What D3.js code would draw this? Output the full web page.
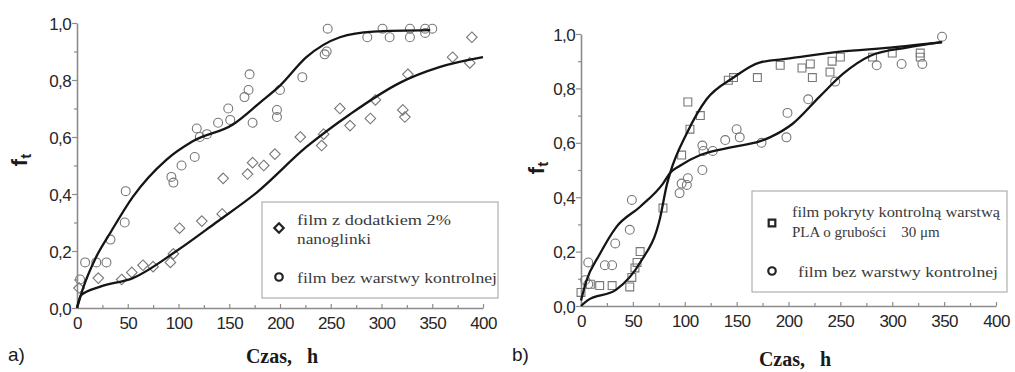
<!DOCTYPE html>
<html>
<head>
<meta charset="utf-8">
<script src="https://cdn.jsdelivr.net/npm/d3@7"></script>
<style>
  html, body { margin: 0; padding: 0; background: #fff; }
  svg { display: block; }
  .tick text { font-family: "Liberation Sans", Arial, sans-serif; font-size: 17px; fill: #262626; letter-spacing: -0.6px; }
  .legend text { font-family: "Liberation Serif", "Times New Roman", serif; fill: #3a3a3a; }
</style>
</head>
<body>
<svg id="chart" width="1015" height="372"></svg>
<script>
// ---- data (time in h, f_t) ----
// panel a
const aControl = [[3,0.10],[8,0.16],[19,0.16],[29,0.16],[33,0.24],[47,0.30],[48,0.41],[93,0.46],[95,0.44],
  [103,0.50],[116,0.53],[118,0.63],[121,0.60],[128,0.61],[139,0.65],[149,0.70],[151,0.66],[165,0.74],
  [169,0.765],[170,0.82],[173,0.65],[197,0.695],[197,0.67],[200,0.765],[222,0.81],[244,0.89],[246,0.90],
  [247,0.98],[286,0.95],[301,0.98],[308,0.95],[328,0.98],[328,0.95],[343,0.98],[343,0.965],[350,0.98]];
const aNano = [[2,0.07],[21,0.105],[44,0.10],[54,0.125],[65,0.15],[75,0.145],[92,0.16],[95,0.19],[101,0.28],
  [123,0.305],[143,0.33],[144,0.455],[168,0.47],[173,0.51],[184,0.50],[195,0.54],[220,0.60],[241,0.57],
  [243,0.61],[259,0.70],[269,0.64],[289,0.665],[294,0.73],[321,0.695],[323,0.67],[326,0.82],[370,0.88],
  [387,0.86],[389,0.95]];
const aControlFit = [[0,0.0],[6,0.07],[19,0.18],[33,0.265],[55,0.39],[88,0.52],[114,0.585],[154,0.645],
  [180,0.72],[200,0.78],[226,0.88],[259,0.95],[292,0.97],[348,0.975]];
const aNanoFit = [[0,0.0],[4,0.045],[23,0.075],[55,0.105],[98,0.20],[137,0.30],[177,0.405],[226,0.565],
  [269,0.68],[318,0.79],[357,0.845],[400,0.88]];

// panel b
const bPla = [[0,0.05],[9,0.08],[18,0.075],[30,0.075],[47,0.07],[49,0.105],[52,0.14],[54,0.16],[57,0.20],
  [79,0.36],[97,0.555],[103,0.75],[105,0.65],[115,0.70],[142,0.83],[147,0.84],[170,0.84],[192,0.885],
  [213,0.875],[221,0.89],[223,0.84],[240,0.86],[242,0.90],[250,0.915],[281,0.915],[300,0.93],[327,0.93],
  [327,0.915]];
const bControl = [[4,0.095],[7,0.08],[7,0.16],[23,0.15],[30,0.15],[33,0.23],[47,0.28],[49,0.39],[95,0.415],
  [97,0.45],[102,0.445],[103,0.47],[117,0.50],[117,0.59],[118,0.57],[127,0.57],[139,0.61],[150,0.65],
  [153,0.62],[174,0.60],[198,0.62],[199,0.71],[219,0.76],[245,0.825],[285,0.885],[309,0.89],[329,0.89],
  [348,0.99]];
const bPlaFit = [[0,0.0],[6,0.02],[34,0.06],[57,0.16],[76,0.32],[83,0.45],[86,0.49],[102,0.635],[121,0.76],
  [147,0.84],[172,0.895],[201,0.91],[250,0.935],[298,0.95],[348,0.97]];
const bControlFit = [[0,0.02],[5,0.09],[18,0.19],[34,0.29],[57,0.365],[79,0.45],[86,0.49],[95,0.515],
  [115,0.555],[147,0.585],[172,0.605],[182,0.62],[204,0.67],[230,0.77],[253,0.855],[279,0.92],[314,0.95],
  [348,0.97]];

const xMajor = [0, 50, 100, 150, 200, 250, 300, 350, 400];
const xMinor = [25, 75, 125, 175, 225, 275, 325, 375];
const yMajor = [0, 0.2, 0.4, 0.6, 0.8, 1.0];
const yMinor = [0.1, 0.3, 0.5, 0.7, 0.9];

const legendA = [
  { sym: "diamond", lines: ["film z dodatkiem 2%", "nanoglinki"] },
  { sym: "circle", lines: ["film bez warstwy kontrolnej"] }
];
const legendB = [
  { sym: "square", lines: ["film pokryty kontrolną warstwą", "PLA o grubości    30 μm"] },
  { sym: "circle", lines: ["film bez warstwy kontrolnej"] }
];

const svg = d3.select("#chart");

// square diamond (equal diagonals), like Origin's marker
const symbolRhomb = {
  draw(ctx, size) {
    const r = Math.sqrt(size / 2);
    ctx.moveTo(0, -r); ctx.lineTo(r, 0); ctx.lineTo(0, r); ctx.lineTo(-r, 0); ctx.closePath();
  }
};
const symTypes = { circle: d3.symbolCircle, diamond: symbolRhomb, square: d3.symbolSquare };
const symSizes = { circle: 62, diamond: 56, square: 62 };
const fmt = d => d3.format(".1f")(d).replace(".", ",");

function drawPanel(p) {
  const x = d3.scaleLinear().domain([0, 400]).range([p.x0, p.x1]);
  const y = d3.scaleLinear().domain([0, 1]).range([p.y0, p.y1]);
  const g = svg.append("g");

  // axes
  g.append("g").attr("class", "xax").attr("transform", "translate(0," + p.y0 + ")")
    .call(d3.axisBottom(x).tickValues(xMajor).tickSize(-4).tickSizeOuter(0).tickPadding(9));
  g.append("g").attr("transform", "translate(0," + p.y0 + ")")
    .call(d3.axisBottom(x).tickValues(xMinor).tickSize(-3).tickFormat(""))
    .select(".domain").remove();
  g.append("g").attr("class", "yax").attr("transform", "translate(" + p.x0 + ",0)")
    .call(d3.axisLeft(y).tickValues(yMajor).tickSize(5).tickSizeOuter(0).tickPadding(1).tickFormat(fmt));
  g.append("g").attr("transform", "translate(" + p.x0 + ",0)")
    .call(d3.axisLeft(y).tickValues(yMinor).tickSize(3).tickFormat(""))
    .select(".domain").remove();
  g.selectAll(".domain").attr("stroke", "#8c8c8c").attr("stroke-width", 1.6);
  g.selectAll(".tick line").attr("stroke", "#8c8c8c").attr("stroke-width", 1.2);
  g.selectAll(".xax .tick text").attr("dy", "0.72em");
  g.selectAll(".yax .tick text").attr("dy", "0.36em");

  // points
  p.series.forEach(s => {
    g.append("g").selectAll("path").data(s.data).join("path")
      .attr("d", d3.symbol().type(symTypes[s.sym]).size(symSizes[s.sym]))
      .attr("transform", d => "translate(" + x(d[0]) + "," + y(d[1]) + ")")
      .attr("fill", "none").attr("stroke", "#777").attr("stroke-width", 1.1);
  });

  // fitted curves
  const line = d3.line().x(d => x(d[0])).y(d => y(d[1])).curve(d3.curveMonotoneX);
  p.fits.forEach(f => {
    g.append("path").datum(f).attr("d", line)
      .attr("fill", "none").attr("stroke", "#151515").attr("stroke-width", 2.3);
  });

  // axis titles
  g.append("text").attr("x", p.titleX).attr("y", p.titleY).attr("text-anchor", "middle")
    .attr("font-family", "Liberation Serif, serif").attr("font-weight", "bold").attr("font-size", 20)
    .attr("fill", "#1a1a1a").style("white-space", "pre").text("Czas,   h");
  const yl = g.append("text").attr("transform", "translate(" + p.ylX + "," + p.ylY + ") rotate(-90)")
    .attr("text-anchor", "middle").attr("font-family", "Liberation Sans, Arial, sans-serif")
    .attr("font-weight", "bold").attr("font-size", 22).attr("fill", "#1a1a1a");
  yl.append("tspan").text("f");
  yl.append("tspan").attr("font-size", 15).attr("dy", 4).text("t");
  g.append("text").attr("x", p.tagX).attr("y", 361).attr("font-family", "Liberation Sans, Arial, sans-serif")
    .attr("font-size", 19).attr("fill", "#1a1a1a").text(p.tag);

  // legend
  const L = p.legend;
  const lg = g.append("g").attr("class", "legend");
  lg.append("rect").attr("x", L.x).attr("y", L.y).attr("width", L.w).attr("height", L.h)
    .attr("fill", "#fff").attr("stroke", "#b0b0b0").attr("stroke-width", 1.2);
  L.items.forEach((it, i) => {
    const row = L.rows[i];
    lg.append("path").attr("d", d3.symbol().type(symTypes[it.sym]).size(44))
      .attr("transform", "translate(" + (L.x + L.mx) + "," + row.my + ")")
      .attr("fill", "none").attr("stroke", "#222").attr("stroke-width", 2.2);
    it.lines.forEach((t, j) => {
      const tx = lg.append("text").attr("x", row.tx).attr("y", row.ty[j]).attr("font-size", L.fs)
        .attr("xml:space", "preserve").style("white-space", "pre").text(t);
      if (row.tl[j]) tx.attr("textLength", row.tl[j]).attr("lengthAdjust", "spacingAndGlyphs");
    });
  });
}

drawPanel({
  x0: 77, x1: 483, y0: 308, y1: 23,
  series: [{ sym: "circle", data: aControl }, { sym: "diamond", data: aNano }],
  fits: [aControlFit, aNanoFit],
  titleX: 282, titleY: 363, ylX: 27, ylY: 160, tag: "a)", tagX: 8,
  legend: { x: 262, y: 202, w: 236, h: 96, mx: 17, fs: 15, items: legendA,
    rows: [{ my: 228, tx: 297, ty: [225, 244], tl: [154, 74] },
           { my: 277, tx: 297, ty: [283], tl: [200] }] }
});

drawPanel({
  x0: 581, x1: 996, y0: 306, y1: 34,
  series: [{ sym: "square", data: bPla }, { sym: "circle", data: bControl }],
  fits: [bPlaFit, bControlFit],
  titleX: 795, titleY: 366, ylX: 544, ylY: 168, tag: "b)", tagX: 512,
  legend: { x: 752, y: 191, w: 255, h: 101, mx: 20, fs: 15, items: legendB,
    rows: [{ my: 223, tx: 792, ty: [217, 237], tl: [208, null] },
           { my: 271, tx: 798, ty: [277], tl: [200] }] }
});
</script>
</body>
</html>
